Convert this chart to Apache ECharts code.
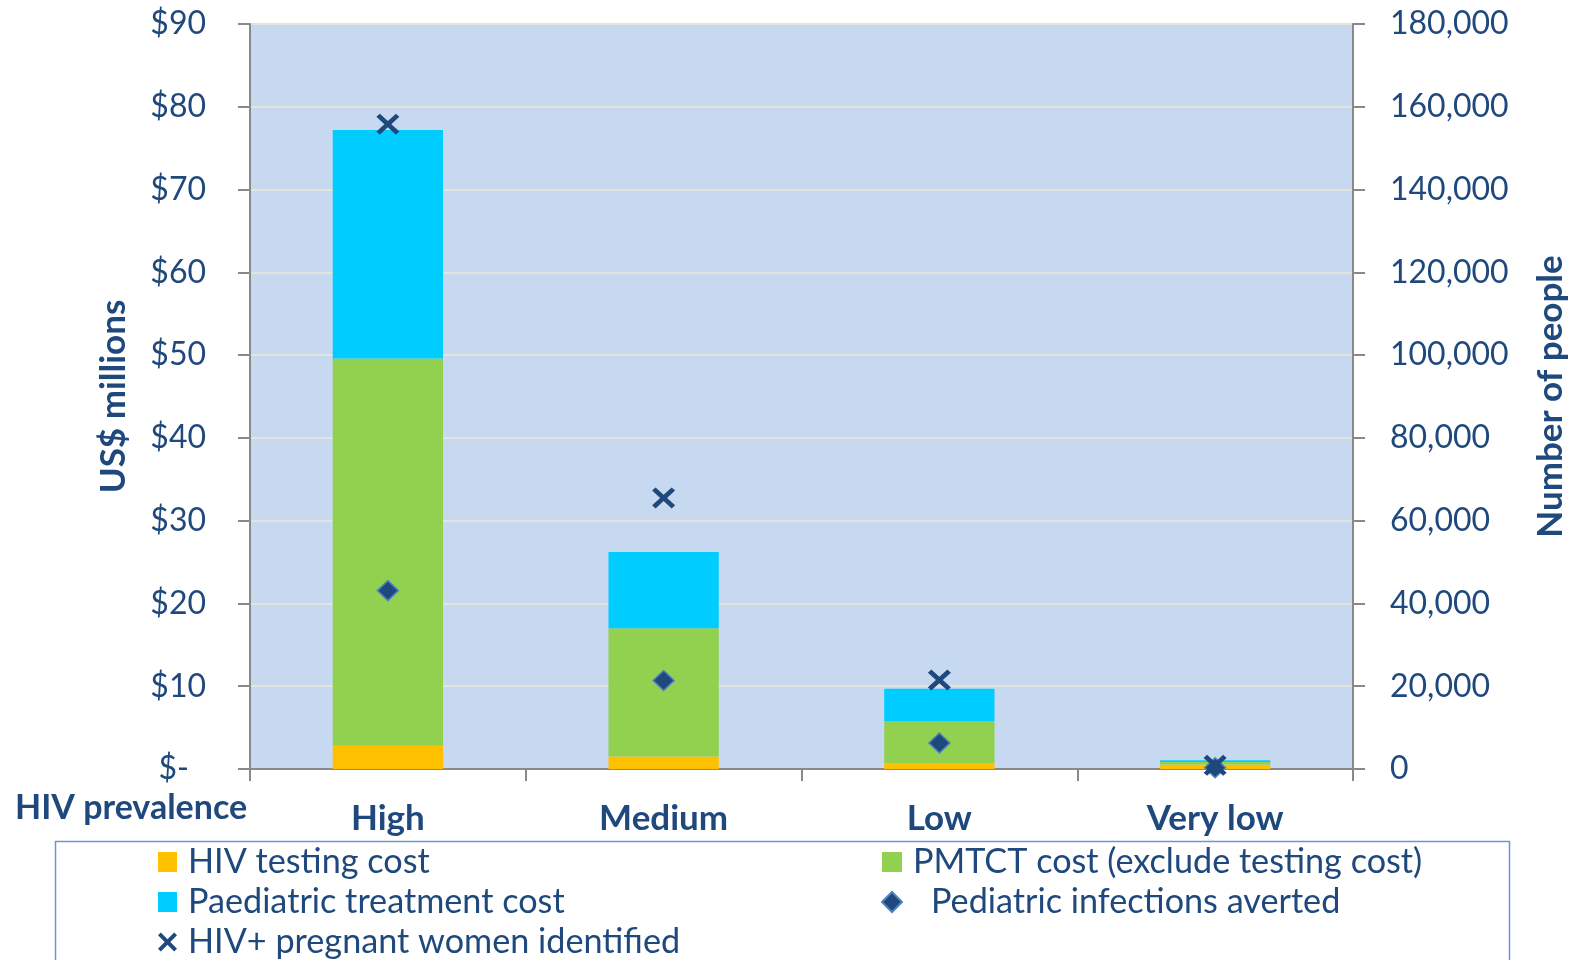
<!DOCTYPE html>
<html>
<head>
<meta charset="utf-8">
<script src="https://cdn.jsdelivr.net/npm/echarts@6/dist/echarts.min.js"></script>
<style>
  html, body { margin: 0; padding: 0; background: #ffffff; }
  #chart { width: 1576px; height: 960px; }
</style>
</head>
<body>
<div id="chart"></div>
<script>
// HIV prevalence settings
const categories = ['High', 'Medium', 'Low', 'Very low'];

// Costs, US$ millions (stacked bars, left axis)
const testingCost = [2.8, 1.5, 0.7, 0.55];
const pmtctCost = [46.8, 15.5, 5.1, 0.3];
const paediatricCost = [27.6, 9.2, 3.9, 0.2];

// Number of people (markers, right axis)
const womenIdentified = [155800, 65500, 21500, 900];
const infectionsAverted = [43100, 21400, 6300, 300];

// Axis ranges
const costTicks = { min: 0, max: 90, interval: 10 };
const peopleTicks = { min: 0, max: 180000, interval: 20000 };

const TEXT = '#1f497d';
const AXIS = '#898989';
const FONT = 'Lato, "Liberation Sans", sans-serif';
const CROSS = 'path://M0,3 L3,0 L10,7 L17,0 L20,3 L13,10 L20,17 L17,20 L10,13 L3,20 L0,17 L7,10 Z';

const chart = echarts.init(document.getElementById('chart'), null, { renderer: 'canvas' });

const legendText = {
  color: TEXT, fontFamily: FONT, fontSize: 34.2, lineHeight: 40,
  padding: [0, 0, 0, 6],
  rich: { gap: { width: 18 } }
};

chart.setOption({
  animation: false,
  backgroundColor: '#ffffff',
  textStyle: { fontFamily: FONT },
  grid: {
    left: 250, right: 223, top: 24, bottom: 191,
    show: true, backgroundColor: '#c6d9f1', borderWidth: 0
  },
  graphic: [
    {
      type: 'rect',
      shape: { x: 55.5, y: 841.5, width: 1454, height: 140 },
      style: { fill: 'none', stroke: '#6f95c9', lineWidth: 1.5 },
      z: 0
    },
    {
      type: 'text',
      left: 15, top: 791,
      style: { text: 'HIV prevalence', fill: TEXT, font: 'bold 34px ' + FONT }
    }
  ],
  legend: [
    {
      left: 158, top: 842, height: 124, orient: 'vertical', itemGap: 0, padding: 0,
      itemWidth: 19, itemHeight: 20,
      data: [
        { name: 'HIV testing cost', icon: 'rect' },
        { name: 'Paediatric treatment cost', icon: 'rect' },
        { name: 'HIV+ pregnant women identified' }
      ],
      textStyle: legendText
    },
    {
      left: 881, top: 842, height: 124, orient: 'vertical', itemGap: 0, padding: 0,
      itemWidth: 20, itemHeight: 20,
      data: [
        { name: 'PMTCT cost (exclude testing cost)', icon: 'rect' },
        { name: 'Pediatric infections averted' }
      ],
      formatter: name => name === 'Pediatric infections averted' ? '{gap|}' + name : name,
      textStyle: legendText
    }
  ],
  xAxis: {
    type: 'category',
    data: categories,
    axisLine: { lineStyle: { color: AXIS, width: 2 } },
    axisTick: { show: true, length: 12, lineStyle: { color: AXIS, width: 2 } },
    axisLabel: { color: TEXT, fontSize: 35, fontWeight: 'bold', margin: 32, fontFamily: FONT }
  },
  yAxis: [
    {
      type: 'value',
      min: costTicks.min, max: costTicks.max, interval: costTicks.interval,
      name: 'US$ millions',
      nameLocation: 'middle', nameRotate: 90, nameGap: 119,
      nameTextStyle: { color: TEXT, fontSize: 35, fontWeight: 'bold', fontFamily: FONT },
      axisLine: { show: true, lineStyle: { color: AXIS, width: 2 } },
      axisTick: { show: true, length: 12, lineStyle: { color: AXIS, width: 2 } },
      splitLine: { show: true, lineStyle: { color: '#e4e4dc', width: 2 } },
      axisLabel: {
        color: TEXT, fontSize: 32, margin: 44, fontFamily: FONT,
        formatter: v => v === 0 ? '{z|$-}' : '$' + v,
        rich: { z: { color: TEXT, fontSize: 32, fontFamily: FONT, padding: [0, 17, 0, 0] } }
      }
    },
    {
      type: 'value',
      min: peopleTicks.min, max: peopleTicks.max, interval: peopleTicks.interval,
      position: 'right',
      name: 'Number of people',
      nameLocation: 'middle', nameRotate: 90, nameGap: 180,
      nameTextStyle: { color: TEXT, fontSize: 35, fontWeight: 'bold', fontFamily: FONT },
      axisLine: { show: true, lineStyle: { color: AXIS, width: 2 } },
      axisTick: { show: true, length: 12, lineStyle: { color: AXIS, width: 2 } },
      splitLine: { show: false },
      axisLabel: {
        color: TEXT, fontSize: 32, margin: 37, fontFamily: FONT,
        formatter: v => v.toLocaleString('en-US')
      }
    }
  ],
  series: [
    {
      name: 'HIV testing cost', type: 'bar', stack: 'cost', yAxisIndex: 0,
      barCategoryGap: '60%', data: testingCost,
      itemStyle: { color: '#ffc000' }
    },
    {
      name: 'PMTCT cost (exclude testing cost)', type: 'bar', stack: 'cost', yAxisIndex: 0,
      data: pmtctCost,
      itemStyle: { color: '#92d050' }
    },
    {
      name: 'Paediatric treatment cost', type: 'bar', stack: 'cost', yAxisIndex: 0,
      data: paediatricCost,
      itemStyle: { color: '#00ccff' }
    },
    {
      name: 'Pediatric infections averted', type: 'scatter', yAxisIndex: 1,
      data: infectionsAverted,
      symbol: 'diamond', symbolSize: [21, 20], z: 5,
      itemStyle: { color: '#1f497d', borderColor: '#4f81bd', borderWidth: 1.5, opacity: 1 }
    },
    {
      name: 'HIV+ pregnant women identified', type: 'scatter', yAxisIndex: 1,
      data: womenIdentified,
      symbol: CROSS, symbolSize: [23, 21], z: 6,
      itemStyle: { color: '#1f497d', opacity: 1 }
    }
  ]
});
</script>
</body>
</html>
